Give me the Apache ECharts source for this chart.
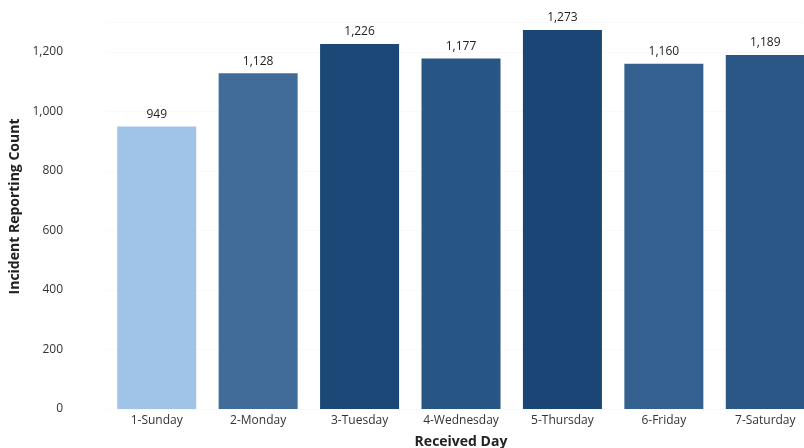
<!DOCTYPE html>
<html>
<head>
<meta charset="utf-8">
<script src="https://cdn.jsdelivr.net/npm/echarts@6/dist/echarts.min.js"></script>
<style>
  html, body { margin: 0; padding: 0; background: #fff; }
  #chart { width: 804px; height: 448px; }
</style>
</head>
<body>
<div id="chart"></div>
<script>
// data
const days = ['1-Sunday', '2-Monday', '3-Tuesday', '4-Wednesday', '5-Thursday', '6-Friday', '7-Saturday'];
const counts = [949, 1128, 1226, 1177, 1273, 1160, 1189];
const yTicks = [0, 200, 400, 600, 800, 1000, 1200];

// bar shades, darker for higher counts
const barColors = ['#9fc4e7', '#416c99', '#1c4878', '#275584', '#1a4574', '#34618f', '#2a5785'];

let chart = echarts.init(document.getElementById('chart'));
chart.setOption({
  animation: false,
  textStyle: {fontFamily: 'Open Sans'},
  grid: {left: 106, right: -12, top: 22, bottom: 39, outerBoundsMode: 'none'},
  xAxis: {
    type: 'category',
    data: days,
    name: 'Received Day',
    nameLocation: 'middle',
    nameGap: 26,
    nameTextStyle: {fontSize: 14, fontWeight: 'bold', color: '#222', fontFamily: 'Open Sans'},
    axisLine: {show: false},
    axisTick: {show: false},
    axisLabel: {color: '#333', fontSize: 12, margin: 6}
  },
  yAxis: {
    type: 'value',
    min: 0,
    max: 1300,
    interval: 200,
    name: 'Incident Reporting Count',
    nameLocation: 'middle',
    nameGap: 82,
    nameTextStyle: {fontSize: 14, fontWeight: 'bold', color: '#222', padding: [0, 0, 0, 18]},
    axisLine: {show: false},
    axisTick: {show: false},
    axisLabel: {
      color: '#333', fontSize: 12, margin: 43, showMaxLabel: false,
      formatter: (v) => yTicks.indexOf(v) >= 0 ? v.toLocaleString('en-US') : ''
    },
    splitLine: {lineStyle: {color: '#f4f4f4', type: 'dotted'}}
  },
  series: [{
    type: 'bar',
    data: counts,
    barWidth: 79,
    itemStyle: {
      color: (params) => barColors[params.dataIndex]
    },
    label: {
      show: true,
      position: 'top',
      distance: 6,
      color: '#222',
      fontSize: 12,
      formatter: (p) => p.value.toLocaleString('en-US')
    }
  }]
});
</script>
</body>
</html>
